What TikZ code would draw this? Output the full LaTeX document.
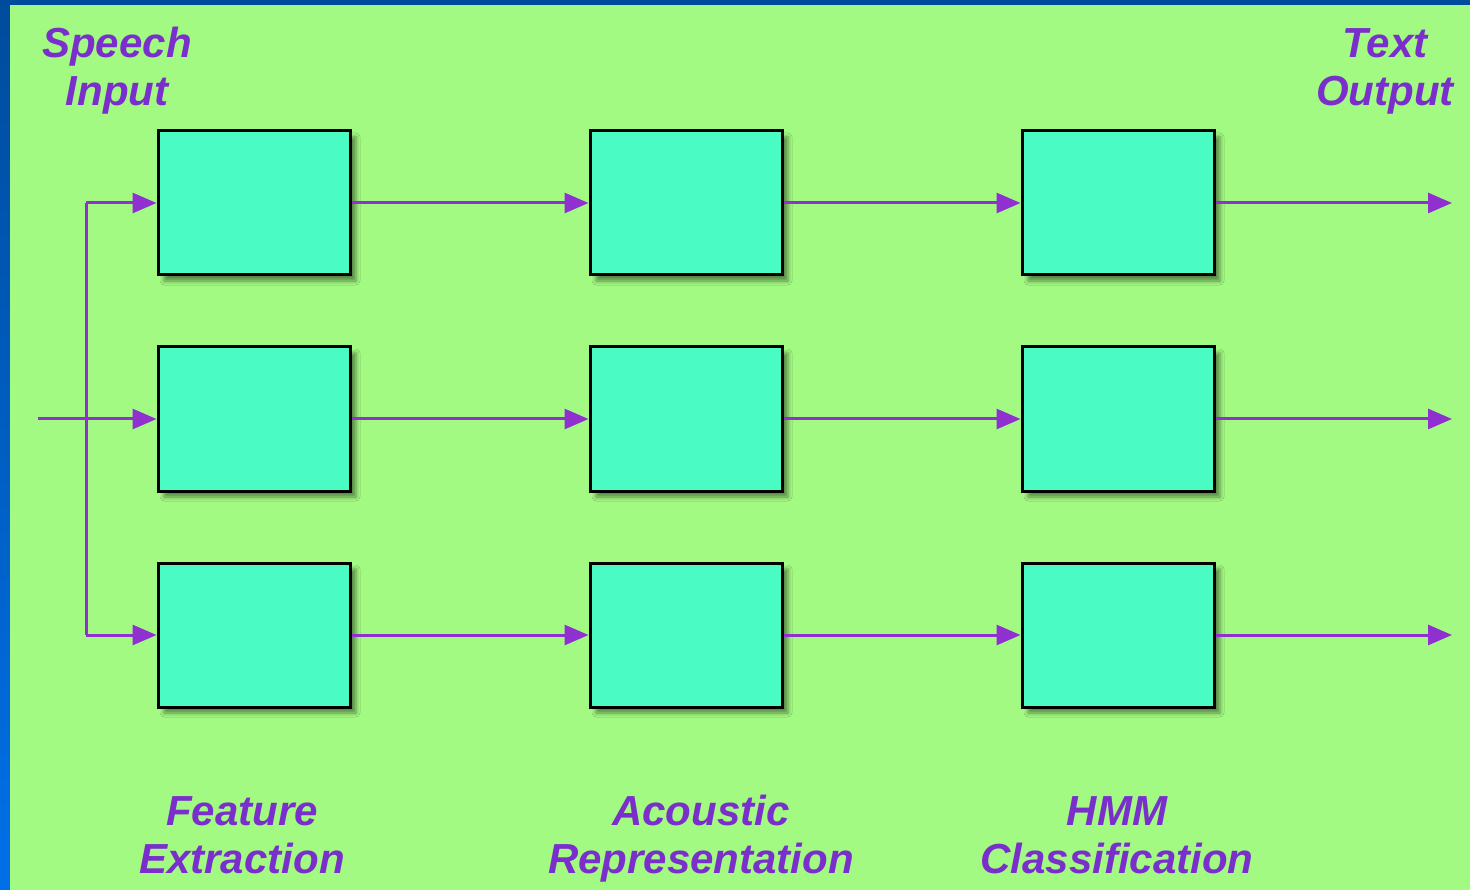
\documentclass[tikz,border=0pt]{standalone}
\usepackage{fontspec}
\setmainfont{Liberation Sans}
\usetikzlibrary{arrows.meta,shadows.blur}
\definecolor{bgreen}{HTML}{A2FA82}
\definecolor{boxfill}{HTML}{4AFBC4}
\definecolor{lpurple}{HTML}{9030D0}
\definecolor{tpurple}{HTML}{7A2ECC}
\definecolor{navy}{HTML}{004C9C}
\definecolor{lblue}{HTML}{0070E8}
\tikzset{
  stagebox/.style={draw=black, line width=3pt, fill=boxfill, minimum width=192pt, minimum height=144pt, inner sep=0pt,
    blur shadow={shadow xshift=6pt, shadow yshift=-6pt, shadow opacity=45, shadow blur radius=4pt}},
  flow/.style={draw=lpurple, line width=3pt, -{Triangle[length=24pt,width=20pt]}},
  plain/.style={draw=lpurple, line width=3pt},
  lbl/.style={text=tpurple, font=\fontsize{42}{48}\selectfont\bfseries\itshape, align=center, inner sep=0pt}
}
\begin{document}
\begin{tikzpicture}[x=1pt,y=-1pt]
\useasboundingbox (0,0) rectangle (1470,890);
\shade[top color=navy, bottom color=lblue] (0,0) rectangle (1470,890);
\fill[bgreen] (10,5) rectangle (1470,890);
% boxes
\foreach \c/\x in {1/254,2/686,3/1118}{
  \foreach \r/\y in {1/203,2/419,3/635}{
    \node[stagebox] (b\c\r) at (\x,\y) {};
  }
}
% outputs
\foreach \r/\y in {1/203,2/419,3/635}{
  \coordinate (o\r) at (1452,\y);
}
\coordinate (in) at (38,419);
\coordinate (vt) at (86,203);
\coordinate (vb) at (86,635);
% connectors
\foreach \r in {1,2,3}{
  \draw[flow] (b1\r.east) -- (b2\r.west);
  \draw[flow] (b2\r.east) -- (b3\r.west);
  \draw[flow] (b3\r.east) -- (o\r);
}
\draw[flow] (in) -- (b12.west);
\draw[plain] (vt) -- (vb);
\draw[flow] (vt) -- (b11.west);
\draw[flow] (vb) -- (b13.west);
% labels
\node[lbl] (speech) at (117,72) {\strut Speech\\\strut Input};
\node[lbl] (textout) at (1385,72) {\strut Text\\\strut Output};
\node[lbl] (feat) at (242,840) {\strut Feature\\\strut Extraction};
\node[lbl] (acou) at (701,840) {\strut Acoustic\\\strut Representation};
\node[lbl] (hmm) at (1117,840) {\strut HMM\\\strut Classification};
\end{tikzpicture}
\end{document}
